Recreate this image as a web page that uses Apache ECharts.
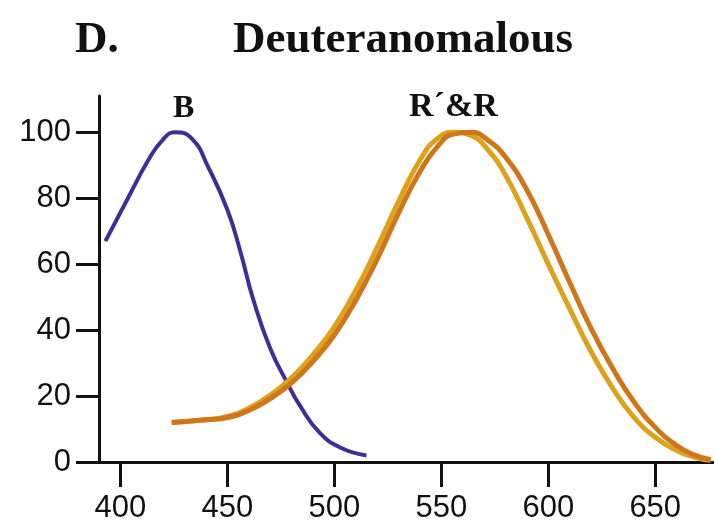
<!DOCTYPE html>
<html>
<head>
<meta charset="utf-8">
<script src="https://cdn.jsdelivr.net/npm/echarts@6/dist/echarts.min.js"></script>
<style>
  html, body { margin: 0; padding: 0; background: #fff; }
  #chart { width: 714px; height: 525px; }
</style>
</head>
<body>
<div id="chart"></div>
<script>
// wavelength (nm) / relative sensitivity (%)
const blueB = [
  [393, 67], [403.5, 80], [413, 91.5], [419.5, 97.5], [425.5, 100],
  [433.5, 98], [441, 89.5], [450, 76.5], [456, 64], [462, 49.5],
  [470, 34.5], [478, 24], [484, 17], [493, 9], [503, 4.3], [515, 2]
]
const redPrime = [
  [424, 12], [440, 12.8], [450, 13.8], [460, 16.3], [470, 20.3], [480, 25.5],
  [490, 32.5], [500, 41], [510, 52], [520, 65], [530, 79], [540, 91.5],
  [548, 98], [556, 100], [564, 99], [572, 94.5], [580, 87], [590, 74],
  [600, 60], [610, 46.5], [620, 33.5], [630, 22.5], [640, 13.6], [650, 7.5],
  [660, 3.5], [668, 1.5], [676, 0.5]
]
const redR = [
  [424, 12], [440, 12.8], [450, 13.5], [460, 15.6], [470, 19.2], [480, 24],
  [490, 30.5], [500, 38.5], [510, 49], [520, 61.5], [530, 75.5], [540, 88],
  [548, 95.5], [556, 99.5], [564, 100], [572, 97.5], [580, 92.5], [590, 82.5],
  [600, 69], [610, 54.5], [620, 40.5], [630, 28.5], [640, 18.3], [650, 10.5],
  [660, 5], [668, 2.2], [676, 0.7]
]
const xTicks = [400, 450, 500, 550, 600, 650]
const yTicks = [0, 20, 40, 60, 80, 100]

const chart = echarts.init(document.getElementById('chart'))

const axisFont = {
  color: '#111',
  fontSize: 31,
  fontFamily: '"Liberation Sans", Arial, sans-serif'
}
const serifBold = '"Liberation Serif", "Times New Roman", serif'

chart.setOption({
  animation: false,
  backgroundColor: '#fff',
  grid: { left: 99, right: 1, top: 96, bottom: 63 },
  xAxis: {
    type: 'value',
    min: 390,
    max: 677,
    splitLine: { show: false },
    axisLine: { show: true, onZero: false, lineStyle: { color: '#111', width: 3 } },
    axisTick: { show: true, customValues: xTicks, length: 25, lineStyle: { color: '#111', width: 3 } },
    axisLabel: { customValues: xTicks, margin: 31, ...axisFont }
  },
  yAxis: {
    type: 'value',
    min: 0,
    max: 111,
    splitLine: { show: false },
    axisLine: { show: true, lineStyle: { color: '#111', width: 3 } },
    axisTick: { show: true, customValues: yTicks, length: 23, lineStyle: { color: '#111', width: 3 } },
    axisLabel: { customValues: yTicks, margin: 28, ...axisFont }
  },
  series: [
    {
      name: 'B',
      type: 'line',
      data: blueB,
      smooth: 0.5,
      showSymbol: false,
      lineStyle: { color: '#3a3196', width: 4 }
    },
    {
      name: "R'",
      type: 'line',
      data: redPrime,
      smooth: 0.5,
      showSymbol: false,
      lineStyle: { color: '#dca21c', width: 5 }
    },
    {
      name: 'R',
      type: 'line',
      data: redR,
      smooth: 0.5,
      showSymbol: false,
      lineStyle: { color: '#d0761a', width: 5 }
    }
  ],
  graphic: [
    { type: 'text', left: 75, top: 18, style: { text: 'D.', font: 'bold 45px ' + serifBold, fill: '#111' } },
    { type: 'text', left: 233, top: 18, style: { text: 'Deuteranomalous', font: 'bold 45px ' + serifBold, fill: '#111' } },
    { type: 'text', left: 173, top: 93, style: { text: 'B', font: 'bold 32px ' + serifBold, fill: '#111' } },
    { type: 'text', left: 409, top: 90, style: { text: 'R´&R', font: 'bold 34px ' + serifBold, fill: '#111' } }
  ]
})
</script>
</body>
</html>
